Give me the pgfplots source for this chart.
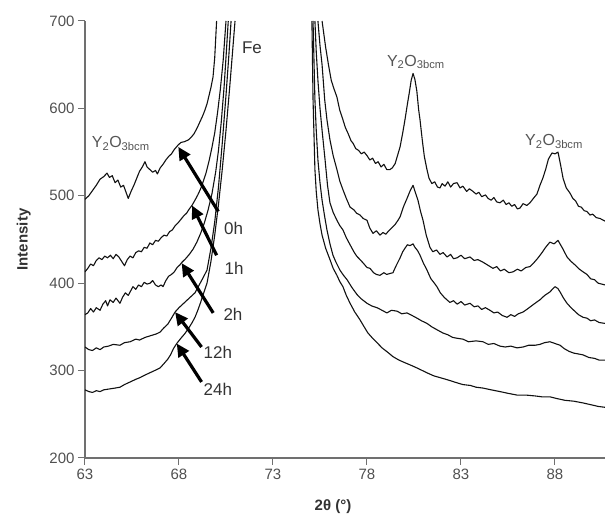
\documentclass[border=0pt]{standalone}
\usepackage{fontspec}
\setmainfont{Liberation Sans}
\usepackage{pgfplots}
\pgfplotsset{compat=1.18}
\usetikzlibrary{arrows.meta}
\definecolor{axgray}{HTML}{707070}
\definecolor{tickgray}{HTML}{505050}
\definecolor{curve}{HTML}{111111}
\definecolor{labgray}{HTML}{333333}
\definecolor{ygray}{HTML}{555555}
\begin{document}
\begin{tikzpicture}
\begin{axis}[
  width=520pt, height=437pt, scale only axis,
  xmin=63, xmax=90.66, ymin=200, ymax=700,
  axis lines=left,
  axis line style={-, draw=axgray, line width=1.3pt},
  xtick={63,68,73,78,83,88}, ytick={200,300,400,500,600,700},
  tick align=outside, major tick length=7pt,
  tick style={draw=axgray, line width=1pt},
  ticklabel style={font=\fontsize{15}{17}\selectfont, text=tickgray},
  /pgf/number format/assume math mode=true,
  xlabel={\textbf{2θ (°)}}, ylabel={\textbf{Intensity}},
  xlabel style={at={(axis description cs:0.477,-0.112)}, anchor=center, font=\fontsize{15}{17}\selectfont, text=labgray},
  ylabel style={at={(axis description cs:-0.118,0.5)}, anchor=center, font=\fontsize{15}{17}\selectfont, text=labgray},
  cycle list={{draw=curve, solid, mark=none}},
  every axis plot post/.style={draw=curve, line width=1.1pt, line join=round, mark=none, solid},
  clip=true,
]
% ---------- 0h ----------
\addplot table {
63.0 496
63.2 500
63.4 506
63.6 512
63.8 519
64.0 522
64.17 526
64.3 521
64.45 523
64.6 515
64.75 518
64.9 510
65.05 512
65.2 503
65.3 497
65.45 505
65.6 512
65.75 520
65.9 528
66.05 533
66.19 539
66.3 533
66.45 530
66.6 527
66.75 529
66.85 525
67.0 532
67.15 536
67.3 541
67.45 545
67.6 548
67.75 553
67.95 558
68.1 561
68.3 562
68.5 564
68.65 567
68.8 571
68.95 577
69.1 584
69.25 591
69.38 598
69.5 606
69.6 615
69.7 624
69.81 636
69.9 658
70.0 700
};
\addplot table {
75.61 700
75.8 670
75.95 650
76.1 632
76.25 622
76.40 613
76.55 598
76.72 587
76.85 578
77.0 571
77.15 563
77.26 560
77.4 554
77.55 552
77.7 548
77.85 550
78.0 546
78.15 541
78.3 543
78.45 537
78.59 539
78.75 533
78.9 536
79.05 530
79.22 530
79.35 532
79.5 537
79.65 548
79.76 556
79.9 572
80.02 587
80.15 605
80.25 618
80.35 632
80.45 640
80.55 633
80.65 620
80.75 598
80.82 587
80.95 562
81.05 545
81.19 530
81.3 520
81.45 514
81.6 516
81.75 510
81.88 509
82.0 514
82.15 511
82.3 516
82.45 510
82.6 514
82.79 515
82.95 509
83.1 511
83.3 505
83.45 508
83.64 505
83.8 502
83.95 504
84.1 499
84.3 501
84.44 497
84.6 495
84.75 498
84.9 493
85.07 492
85.25 495
85.4 490
85.55 492
85.7 488
85.85 490
86.0 485
86.14 486
86.3 491
86.5 489
86.67 492
86.85 497
87.04 502
87.2 512
87.35 520
87.5 530
87.65 542
87.84 549
88.0 548
88.16 550
88.3 535
88.43 520
88.6 509
88.8 503
88.95 497
89.1 494
89.25 488
89.4 487
89.55 483
89.7 482
89.86 478
90.0 479
90.2 475
90.4 474
90.66 471
};
% ---------- 1h ----------
\addplot table {
63.0 413
63.15 417
63.3 422
63.45 420
63.6 426
63.75 429
63.9 427
64.05 431
64.2 429
64.35 432
64.5 428
64.65 433
64.8 430
64.95 425
65.1 420
65.25 427
65.4 431
65.55 429
65.7 435
65.85 437
66.0 436
66.15 441
66.3 440
66.45 446
66.6 444
66.75 449
66.9 448
67.05 452
67.2 455
67.35 454
67.5 459
67.65 461
67.8 466
67.95 469
68.1 473
68.25 477
68.4 480
68.55 485
68.69 489
68.85 495
69.0 501
69.15 508
69.3 517
69.45 527
69.6 540
69.75 555
69.9 572
70.05 595
70.2 622
70.35 655
70.5 700
};
\addplot table {
75.39 700
75.5 672
75.61 650
75.75 610
75.87 587
76.03 564
76.2 546
76.40 530
76.55 517
76.72 507
76.9 497
77.1 487
77.3 484
77.45 480
77.63 478
77.8 474
78.0 472
78.15 463
78.32 457
78.5 460
78.69 455
78.85 458
79.0 456
79.12 459
79.3 463
79.49 467
79.65 472
79.76 476
79.95 488
80.13 497
80.3 506
80.45 512
80.6 502
80.71 495
80.85 482
80.98 472
81.15 455
81.35 441
81.5 436
81.7 438
81.88 433
82.05 435
82.26 430
82.45 433
82.6 428
82.79 429
83.0 432
83.2 428
83.48 430
83.7 426
83.9 427
84.17 424
84.4 421
84.55 419
84.70 417
84.9 419
85.1 414
85.3 416
85.55 412
85.77 413
86.0 416
86.2 414
86.45 418
86.67 419
86.9 424
87.1 429
87.31 435
87.5 441
87.73 447
87.95 445
88.16 449
88.4 440
88.64 430
88.85 425
89.06 421
89.3 416
89.49 413
89.7 410
89.9 405
90.1 404
90.3 400
90.66 398
};
% ---------- 2h ----------
\addplot table {
63.0 364
63.15 366
63.3 371
63.45 367
63.6 372
63.8 369
63.95 376
64.1 380
64.2 374
64.33 381
64.5 378
64.65 383
64.86 377
65.0 384
65.15 389
65.3 386
65.45 392
65.55 396
65.7 393
65.85 398
66.0 396
66.15 401
66.3 399
66.46 400
66.6 403
66.75 398
66.9 396
67.05 398
67.15 396
67.3 403
67.45 408
67.6 410
67.75 413
67.9 418
68.05 421
68.16 424
68.35 428
68.55 433
68.75 439
68.95 447
69.15 457
69.35 469
69.55 484
69.75 502
69.95 527
70.1 552
70.25 585
70.4 625
70.52 665
70.62 700
};
\addplot table {
75.23 700
75.3 665
75.39 632
75.5 600
75.61 575
75.77 541
75.9 512
76.03 492
76.2 481
76.40 472
76.55 466
76.72 461
76.9 452
77.1 444
77.3 436
77.45 431
77.63 427
77.8 423
78.0 418
78.16 417
78.35 412
78.5 410
78.69 409
78.9 412
79.05 410
79.2 411
79.38 412
79.55 420
79.76 429
79.9 436
80.02 440
80.15 444
80.29 443
80.45 445
80.55 441
80.7 437
80.82 432
81.0 423
81.19 415
81.4 405
81.55 401
81.72 396
81.9 389
82.1 384
82.25 381
82.41 378
82.6 380
82.8 376
83.0 379
83.2 375
83.48 377
83.7 373
83.9 374
84.1 370
84.3 372
84.54 369
84.75 366
84.95 367
85.2 363
85.45 361
85.65 364
85.85 362
86.05 365
86.3 367
86.5 370
86.75 374
87.0 378
87.2 381
87.45 386
87.73 390
87.9 394
88.0 396
88.15 394
88.27 390
88.45 383
88.64 377
88.85 372
89.05 368
89.25 364
89.49 361
89.7 360
89.9 357
90.1 358
90.35 355
90.66 354
};
% ---------- 12h ----------
\addplot table {
63.0 327
63.2 324
63.4 323
63.6 326
63.8 324
64.0 327
64.25 328
64.5 330
64.86 329
65.1 332
65.4 333
65.7 336
65.9 335
66.2 338
66.5 340
66.8 342
66.99 344
67.2 349
67.4 353
67.6 360
67.79 367
68.0 372
68.2 376
68.4 380
68.6 384
68.85 389
69.05 397
69.25 405
69.49 415
69.7 440
69.9 470
70.1 510
70.3 560
70.5 615
70.65 660
70.77 700
};
\addplot table {
75.13 700
75.18 655
75.23 610
75.3 575
75.39 541
75.5 515
75.61 495
75.75 476
75.87 461
76.03 445
76.19 432
76.35 424
76.56 415
76.75 409
76.94 404
77.2 395
77.47 387
77.7 382
78.0 377
78.25 374
78.53 372
78.8 369
79.06 366
79.3 369
79.6 368
79.85 365
80.13 366
80.4 363
80.66 360
80.9 357
81.19 354
81.45 350
81.7 347
82.04 343
82.3 341
82.55 338
82.79 337
83.1 336
83.4 333
83.8 334
84.17 333
84.45 330
84.75 331
85.07 328
85.35 327
85.65 328
85.98 326
86.3 327
86.6 329
86.94 329
87.2 330
87.45 332
87.73 333
88.0 331
88.27 329
88.5 325
88.75 322
89.0 320
89.25 319
89.49 318
89.8 315
90.1 314
90.35 312
90.66 312
};
% ---------- 24h ----------
\addplot table {
63.0 278
63.2 276
63.4 275
63.6 277
63.8 276
64.0 278
64.3 279
64.6 280
64.86 281
65.1 284
65.4 287
65.7 290
65.93 292
66.2 295
66.5 298
66.8 301
66.99 303
67.2 308
67.4 313
67.55 318
67.7 325
67.88 331
68.1 337
68.3 342
68.5 348
68.7 355
68.85 361
69.0 369
69.15 378
69.3 388
69.49 400
69.7 425
69.9 455
70.1 490
70.3 530
70.5 575
70.7 625
70.85 665
70.98 700
};
\addplot table {
75.07 700
75.1 655
75.13 610
75.18 570
75.23 530
75.3 505
75.39 484
75.5 468
75.61 455
75.8 440
76.03 427
76.2 417
76.40 409
76.55 402
76.72 396
76.9 386
77.10 377
77.35 367
77.63 358
77.85 350
78.05 343
78.3 337
78.53 332
78.8 326
79.1 321
79.38 316
79.7 312
80.02 309
80.35 306
80.66 303
80.95 300
81.24 297
81.55 294
81.88 292
82.2 290
82.5 288
82.79 286
83.1 284
83.5 283
83.8 281
84.17 280
84.6 278
85.07 276
85.5 274
85.98 272
86.45 272
86.94 271
87.3 270
87.73 270
88.1 268
88.53 266
89.0 265
89.49 263
89.9 261
90.3 259
90.66 258
};
% arrows
\tikzset{arr/.style={line width=3.2pt, black, -{Triangle[length=13pt,width=12pt]}}}
\draw[arr] (axis cs:70.09,482) -- (axis cs:67.96,556);
\draw[arr] (axis cs:70.0,432) -- (axis cs:68.69,489);
\draw[arr] (axis cs:69.82,366) -- (axis cs:68.14,423);
\draw[arr] (axis cs:69.2,327) -- (axis cs:67.79,367);
\draw[arr] (axis cs:69.2,287) -- (axis cs:67.88,331);
% labels
\tikzset{lab/.style={font=\fontsize{17}{19}\selectfont, text=labgray, inner sep=0pt}}
\node[lab] at (axis cs:70.9,463) {0h};
\node[lab] at (axis cs:70.93,417) {1h};
\node[lab] at (axis cs:70.87,364) {2h};
\node[lab] at (axis cs:70.07,321) {12h};
\node[lab] at (axis cs:70.07,278) {24h};
\node[lab] at (axis cs:71.88,669) {Fe};
\tikzset{ylab/.style={font=\fontsize{16}{18}\selectfont, text=ygray, inner sep=0pt}}
\node[ylab] at (axis cs:64.9,560) {Y\textsubscript{2}O\textsubscript{3bcm}};
\node[ylab] at (axis cs:80.6,653) {Y\textsubscript{2}O\textsubscript{3bcm}};
\node[ylab] at (axis cs:87.95,562) {Y\textsubscript{2}O\textsubscript{3bcm}};
\coordinate (SW) at (rel axis cs:0,0);
\coordinate (NE) at (rel axis cs:1,1);
\end{axis}
\pgfresetboundingbox
\path ([shift={(-85pt,-58pt)}]SW) rectangle ([shift={(0pt,21pt)}]NE);
\end{tikzpicture}
\end{document}
